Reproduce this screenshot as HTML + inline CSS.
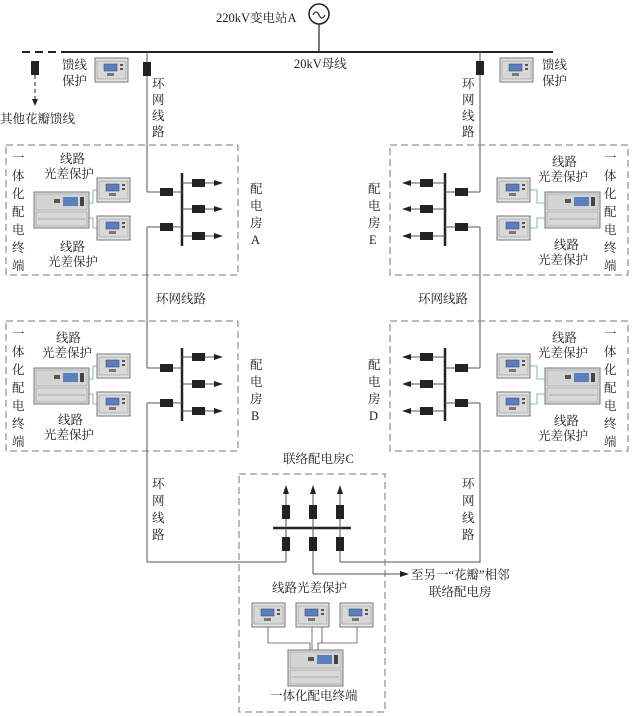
<!DOCTYPE html>
<html><head><meta charset="utf-8"><style>
html,body{margin:0;padding:0;background:#fff;}
svg{display:block;}
text{font-family:"Liberation Serif","Noto Serif CJK SC","Noto Sans CJK SC",serif;font-size:12.5px;fill:#222;}
</style></head><body>
<svg width="640" height="716" viewBox="0 0 640 716" xmlns="http://www.w3.org/2000/svg">
<defs>
<g id="sd">
<rect x="0" y="0" width="33" height="24" fill="#e4e4e4" stroke="#777" stroke-width="1"/>
<rect x="2" y="3" width="29" height="18" fill="#d8d8d8" stroke="#999" stroke-width="0.6"/>
<rect x="9" y="6" width="13" height="7" fill="#5a7fbf" stroke="#345" stroke-width="0.5"/>
<rect x="12" y="15" width="7" height="3" fill="#777"/>
<rect x="25" y="6" width="3" height="2" fill="#555"/><rect x="25" y="10" width="3" height="2" fill="#555"/>
</g>
<g id="bd">
<rect x="0" y="0" width="55" height="36" fill="#e0e0e0" stroke="#777" stroke-width="1"/>
<rect x="2" y="2" width="51" height="16" fill="#d4d4d4" stroke="#999" stroke-width="0.6"/>
<rect x="29" y="5" width="15" height="9" fill="#5a7fbf"/>
<rect x="20" y="7" width="6" height="4" fill="#555"/>
<rect x="46" y="5" width="4" height="9" fill="#444"/>
<rect x="2" y="20" width="51" height="14" fill="#d8d8d8" stroke="#999" stroke-width="0.6"/>
<line x1="4" y1="27" x2="51" y2="27" stroke="#aaa"/>
</g>
<g id="br"><rect x="-6" y="-4" width="13" height="8" fill="#222"/></g>
<g id="vbr"><rect x="-4" y="-7" width="8" height="14" fill="#222"/></g>
</defs>

<!-- top -->
<circle cx="319" cy="14" r="10" fill="#fff" stroke="#222" stroke-width="1.5"/>
<path d="M313 15 q3 -6 6 0 q3 6 6 0" fill="none" stroke="#222" stroke-width="1.2"/>
<line x1="319" y1="24" x2="319" y2="52" stroke="#222" stroke-width="1.2"/>
<text x="216" y="22">220kV变电站A</text>
<line x1="22" y1="52" x2="66" y2="52" stroke="#222" stroke-width="2" stroke-dasharray="8,5"/>
<line x1="66" y1="52" x2="553" y2="52" stroke="#222" stroke-width="2"/>
<text x="294" y="68">20kV母线</text>
<use href="#vbr" x="35" y="68"/>
<line x1="35" y1="75" x2="35" y2="100" stroke="#222" stroke-width="1" stroke-dasharray="4,3"/>
<polygon points="32,99 38,99 35,106" fill="#222"/>
<text x="0" y="123">其他花瓣馈线</text>
<text x="62" y="69">馈线</text><text x="62" y="85">保护</text>
<use href="#sd" x="95" y="58"/>
<line x1="147" y1="52" x2="147" y2="192" stroke="#555" stroke-width="1"/>
<use href="#vbr" x="147" y="69"/>
<text x="152" y="88">环</text><text x="152" y="104">网</text><text x="152" y="120">线</text><text x="152" y="136">路</text>

<line x1="480" y1="52" x2="480" y2="192" stroke="#555" stroke-width="1"/>
<use href="#vbr" x="480" y="68"/>
<text x="462" y="88">环</text><text x="462" y="104">网</text><text x="462" y="120">线</text><text x="462" y="136">路</text>
<use href="#sd" x="500" y="58"/>
<text x="542" y="69">馈线</text><text x="542" y="85">保护</text>

<!-- Box A -->
<rect x="6" y="145" width="232" height="130" fill="none" stroke="#777" stroke-dasharray="7,4"/>
<text x="12" y="162">一</text><text x="12" y="180">体</text><text x="12" y="198">化</text><text x="12" y="216">配</text><text x="12" y="234">电</text><text x="12" y="252">终</text><text x="12" y="270">端</text>
<text x="60" y="163">线路</text><text x="44" y="178">光差保护</text>
<text x="60" y="251">线路</text><text x="48" y="266">光差保护</text>
<use href="#bd" x="34" y="192"/>
<use href="#sd" x="97" y="178"/><use href="#sd" x="97" y="216"/>
<path d="M89 203 H93 V190 H97 M89 218 H93 V228 H97" fill="none" stroke="#5aa" stroke-width="0.8"/>
<line x1="182" y1="173" x2="182" y2="246" stroke="#222" stroke-width="2.5"/>
<line x1="147" y1="192" x2="182" y2="192" stroke="#555"/><use href="#br" x="166" y="192"/>
<line x1="147" y1="227" x2="182" y2="227" stroke="#555"/><use href="#br" x="166" y="227"/>
<line x1="147" y1="227" x2="147" y2="368" stroke="#555"/>
<g stroke="#555"><line x1="182" y1="183" x2="218" y2="183"/><line x1="182" y1="209" x2="218" y2="209"/><line x1="182" y1="236" x2="218" y2="236"/></g>
<use href="#br" x="198" y="183"/><use href="#br" x="198" y="209"/><use href="#br" x="198" y="236"/>
<polygon points="214,180 223,183 214,186" fill="#222"/><polygon points="214,206 223,209 214,212" fill="#222"/><polygon points="214,233 223,236 214,239" fill="#222"/>
<text x="250" y="193">配</text><text x="250" y="210">电</text><text x="250" y="227">房</text><text x="251" y="244">A</text>

<text x="156" y="303">环网线路</text>
<text x="418" y="303">环网线路</text>

<!-- Box B -->
<rect x="6" y="321" width="232" height="130" fill="none" stroke="#777" stroke-dasharray="7,4"/>
<text x="12" y="338">一</text><text x="12" y="356">体</text><text x="12" y="374">化</text><text x="12" y="392">配</text><text x="12" y="410">电</text><text x="12" y="428">终</text><text x="12" y="446">端</text>
<text x="56" y="342">线路</text><text x="42" y="357">光差保护</text>
<text x="58" y="424">线路</text><text x="44" y="439">光差保护</text>
<use href="#bd" x="34" y="368"/>
<use href="#sd" x="97" y="354"/><use href="#sd" x="97" y="392"/>
<path d="M89 379 H93 V366 H97 M89 394 H93 V404 H97" fill="none" stroke="#5aa" stroke-width="0.8"/>
<line x1="182" y1="348" x2="182" y2="421" stroke="#222" stroke-width="2.5"/>
<line x1="147" y1="368" x2="182" y2="368" stroke="#555"/><use href="#br" x="166" y="368"/>
<line x1="147" y1="403" x2="182" y2="403" stroke="#555"/><use href="#br" x="166" y="403"/>
<path d="M147 403 V562 H286" fill="none" stroke="#555"/>
<g stroke="#555"><line x1="182" y1="357" x2="218" y2="357"/><line x1="182" y1="384" x2="218" y2="384"/><line x1="182" y1="411" x2="218" y2="411"/></g>
<use href="#br" x="198" y="357"/><use href="#br" x="198" y="384"/><use href="#br" x="198" y="411"/>
<polygon points="214,354 223,357 214,360" fill="#222"/><polygon points="214,381 223,384 214,387" fill="#222"/><polygon points="214,408 223,411 214,414" fill="#222"/>
<text x="250" y="369">配</text><text x="250" y="386">电</text><text x="250" y="403">房</text><text x="251" y="420">B</text>
<text x="152" y="488">环</text><text x="152" y="505">网</text><text x="152" y="522">线</text><text x="152" y="539">路</text>

<!-- Box E -->
<rect x="390" y="145" width="238" height="130" fill="none" stroke="#777" stroke-dasharray="7,4"/>
<text x="604" y="162">一</text><text x="604" y="180">体</text><text x="604" y="198">化</text><text x="604" y="216">配</text><text x="604" y="234">电</text><text x="604" y="252">终</text><text x="604" y="270">端</text>
<text x="552" y="166">线路</text><text x="538" y="181">光差保护</text>
<text x="554" y="249">线路</text><text x="538" y="264">光差保护</text>
<use href="#bd" x="545" y="192"/>
<use href="#sd" x="497" y="178"/><use href="#sd" x="497" y="216"/>
<path d="M530 190 H537 V203 H545 M530 228 H537 V218 H545" fill="none" stroke="#5aa" stroke-width="0.8"/>
<line x1="445" y1="173" x2="445" y2="246" stroke="#222" stroke-width="2.5"/>
<line x1="445" y1="192" x2="480" y2="192" stroke="#555"/><use href="#br" x="461" y="192"/>
<line x1="445" y1="227" x2="480" y2="227" stroke="#555"/><use href="#br" x="461" y="227"/>
<line x1="480" y1="227" x2="480" y2="368" stroke="#555"/>
<g stroke="#555"><line x1="405" y1="183" x2="445" y2="183"/><line x1="405" y1="209" x2="445" y2="209"/><line x1="405" y1="236" x2="445" y2="236"/></g>
<use href="#br" x="426" y="183"/><use href="#br" x="426" y="209"/><use href="#br" x="426" y="236"/>
<polygon points="411,180 402,183 411,186" fill="#222"/><polygon points="411,206 402,209 411,212" fill="#222"/><polygon points="411,233 402,236 411,239" fill="#222"/>
<text x="368" y="193">配</text><text x="368" y="210">电</text><text x="368" y="227">房</text><text x="369" y="244">E</text>

<!-- Box D -->
<rect x="390" y="321" width="238" height="130" fill="none" stroke="#777" stroke-dasharray="7,4"/>
<text x="604" y="338">一</text><text x="604" y="356">体</text><text x="604" y="374">化</text><text x="604" y="392">配</text><text x="604" y="410">电</text><text x="604" y="428">终</text><text x="604" y="446">端</text>
<text x="552" y="342">线路</text><text x="538" y="357">光差保护</text>
<text x="554" y="425">线路</text><text x="538" y="440">光差保护</text>
<use href="#bd" x="545" y="368"/>
<use href="#sd" x="497" y="354"/><use href="#sd" x="497" y="392"/>
<path d="M530 366 H537 V379 H545 M530 404 H537 V394 H545" fill="none" stroke="#5aa" stroke-width="0.8"/>
<line x1="445" y1="348" x2="445" y2="421" stroke="#222" stroke-width="2.5"/>
<line x1="445" y1="368" x2="480" y2="368" stroke="#555"/><use href="#br" x="461" y="368"/>
<line x1="445" y1="403" x2="480" y2="403" stroke="#555"/><use href="#br" x="461" y="403"/>
<path d="M480 403 V562 H340" fill="none" stroke="#555"/>
<g stroke="#555"><line x1="405" y1="357" x2="445" y2="357"/><line x1="405" y1="384" x2="445" y2="384"/><line x1="405" y1="411" x2="445" y2="411"/></g>
<use href="#br" x="426" y="357"/><use href="#br" x="426" y="384"/><use href="#br" x="426" y="411"/>
<polygon points="411,354 402,357 411,360" fill="#222"/><polygon points="411,381 402,384 411,387" fill="#222"/><polygon points="411,408 402,411 411,414" fill="#222"/>
<text x="368" y="369">配</text><text x="368" y="386">电</text><text x="368" y="403">房</text><text x="369" y="420">D</text>
<text x="462" y="488">环</text><text x="462" y="505">网</text><text x="462" y="522">线</text><text x="462" y="539">路</text>

<!-- Box C -->
<text x="283" y="463">联络配电房C</text>
<rect x="239" y="474" width="146" height="238" fill="none" stroke="#777" stroke-dasharray="7,4"/>
<line x1="273" y1="528" x2="351" y2="528" stroke="#222" stroke-width="2.5"/>
<g stroke="#555"><line x1="286" y1="490" x2="286" y2="562"/><line x1="313" y1="490" x2="313" y2="574"/><line x1="340" y1="490" x2="340" y2="562"/></g>
<polygon points="283,494 286,485 289,494" fill="#222"/><polygon points="310,494 313,485 316,494" fill="#222"/><polygon points="337,494 340,485 343,494" fill="#222"/>
<use href="#vbr" x="286" y="512"/><use href="#vbr" x="313" y="512"/><use href="#vbr" x="340" y="512"/>
<use href="#vbr" x="286" y="544"/><use href="#vbr" x="313" y="544"/><use href="#vbr" x="340" y="544"/>
<line x1="313" y1="574" x2="400" y2="574" stroke="#555"/>
<polygon points="400,571 409,574 400,577" fill="#222"/>
<text x="411" y="579">至另一“花瓣”相邻</text>
<text x="429" y="596">联络配电房</text>
<text x="272" y="592">线路光差保护</text>
<use href="#sd" x="252" y="603"/><use href="#sd" x="296" y="603"/><use href="#sd" x="340" y="603"/>
<path d="M268 627 V643 H310 V652 M312 627 V652 M322 627 V643 M357 627 V643 H318 V652" fill="none" stroke="#555" stroke-width="0.8"/>
<use href="#bd" x="288" y="650"/>
<text x="270" y="700">一体化配电终端</text>
</svg>
</body></html>
